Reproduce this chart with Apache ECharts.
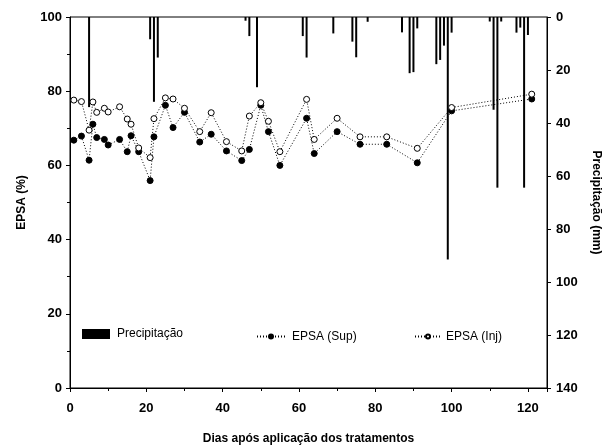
<!DOCTYPE html>
<html>
<head>
<meta charset="utf-8">
<script src="https://cdn.jsdelivr.net/npm/echarts@6/dist/echarts.min.js"></script>
<style>
html,body{margin:0;padding:0;background:#fff;}
#chart{width:610px;height:448px;}
</style>
</head>
<body>
<div id="chart"></div>
<script>
// Days after treatment application (EPSA sampling days)
const days = [1,3,5,6,7,9,10,13,15,16,18,21,22,25,27,30,34,37,41,45,47,50,52,55,62,64,70,76,83,91,100,121];
// EPSA (%) - surface application
const epsaSup = [66.8,67.9,61.4,71.1,67.5,67.0,65.5,67.0,63.7,68.0,63.7,55.9,67.7,76.2,70.2,74.3,66.3,68.4,63.9,61.3,64.3,76.2,69.1,60.0,72.7,63.2,69.1,65.7,65.7,60.7,74.7,77.9];
// EPSA (%) - injected
const epsaInj = [77.6,77.2,69.5,77.1,74.3,75.4,74.4,75.8,72.5,71.1,64.7,62.1,72.6,78.2,77.9,75.4,69.1,74.2,66.4,63.9,73.3,76.9,71.9,63.7,77.8,67.0,72.7,67.7,67.7,64.6,75.6,79.2];
// Precipitation days and amounts (mm)
const rainDays = [5,21,22,23,46,47,49,61,62,69,74,75,78,87,89,90,91,96,97,98,99,100,110,111,112,113,117,118,119,120];
const rainMm   = [34,8.4,32,15.3,1.4,7.2,26.5,7.2,15.3,6.2,9.3,15.2,1.8,5.8,21.2,20.8,4.3,17.8,16.2,10.8,91.5,5.9,1.7,35,64.4,1.7,5.9,4,64.4,6.8];
// Axis tick settings
const xTicks = {min:0, max:125, interval:20};
const yLeftTicks = {min:0, max:100, interval:20};
const yRightTicks = {min:0, max:140, interval:20};

const zip = (a,b) => a.map((v,i)=>[v,b[i]]);

const chart = echarts.init(document.getElementById('chart'), null, {renderer:'canvas'});
const font = 'Liberation Sans, Arial, Helvetica, sans-serif';
const labelStyle = {color:'#000', fontFamily:font, fontWeight:'bold', fontSize:13};
const nameStyle = {color:'#000', fontFamily:font, fontWeight:'bold', fontSize:12};
const legendText = {fontFamily:font, fontSize:12, color:'#000', padding:[0,0,0,2]};

chart.setOption({
  animation:false,
  backgroundColor:'#fff',
  grid:{left:70, right:63, top:17, bottom:60, containLabel:false, outerBoundsMode:'none',
        show:true, borderColor:'#000', borderWidth:1, backgroundColor:'transparent'},
  legend:[
    {left:82, top:328, padding:0, itemWidth:28, itemHeight:10, data:[{name:'Precipitação', icon:'rect'}],
     textStyle:legendText},
    {left:256, top:330.5, padding:0, itemWidth:28, itemHeight:5, data:['EPSA (Sup)'],
     textStyle:legendText},
    {left:414, top:330.5, padding:0, itemWidth:26, itemHeight:5, data:['EPSA (Inj)'],
     textStyle:{...legendText, padding:0}}
  ],
  xAxis:{
    type:'value', min:xTicks.min, max:xTicks.max, interval:xTicks.interval,
    name:'Dias após aplicação dos tratamentos', nameLocation:'middle', nameGap:45,
    nameTextStyle:nameStyle,
    axisLine:{show:true, onZero:false, lineStyle:{color:'#000', width:1}},
    axisTick:{show:true, inside:false, length:4, lineStyle:{color:'#000'}},
    minorTick:{show:true, splitNumber:2, length:3, lineStyle:{color:'#000'}},
    axisLabel:{...labelStyle, margin:14, showMaxLabel:false},
    splitLine:{show:false}
  },
  yAxis:[
    {
      type:'value', position:'left', min:yLeftTicks.min, max:yLeftTicks.max, interval:yLeftTicks.interval,
      name:'EPSA (%)', nameLocation:'middle', nameGap:42, nameTextStyle:nameStyle,
      axisLine:{show:true, lineStyle:{color:'#000', width:1}},
      axisTick:{show:true, length:4, lineStyle:{color:'#000'}},
      minorTick:{show:true, splitNumber:2, length:3, lineStyle:{color:'#000'}},
      axisLabel:{...labelStyle, margin:8},
      splitLine:{show:false}
    },
    {
      type:'value', position:'right', inverse:true, min:yRightTicks.min, max:yRightTicks.max, interval:yRightTicks.interval,
      name:'Precipitação (mm)', nameLocation:'middle', nameGap:43, nameRotate:-90, nameTextStyle:nameStyle,
      axisLine:{show:true, lineStyle:{color:'#000', width:1}},
      axisTick:{show:true, length:4, lineStyle:{color:'#000'}},
      axisLabel:{...labelStyle, margin:9},
      splitLine:{show:false}
    }
  ],
  series:[
    {
      name:'Precipitação', type:'bar', xAxisIndex:0, yAxisIndex:1,
      barWidth:2, itemStyle:{color:'#000'},
      data:zip(rainDays, rainMm)
    },
    {
      name:'EPSA (Sup)', type:'line', yAxisIndex:0,
      symbol:'circle', symbolSize:6,
      lineStyle:{color:'#000', width:1, type:[1,2]},
      itemStyle:{color:'#000', borderColor:'#000', borderWidth:1},
      data:zip(days, epsaSup), z:3
    },
    {
      name:'EPSA (Inj)', type:'line', yAxisIndex:0,
      symbol:'circle', symbolSize:6,
      lineStyle:{color:'#000', width:1, type:[1,2]},
      itemStyle:{color:'#fff', borderColor:'#000', borderWidth:1},
      data:zip(days, epsaInj), z:4
    }
  ]
});
</script>
</body>
</html>
